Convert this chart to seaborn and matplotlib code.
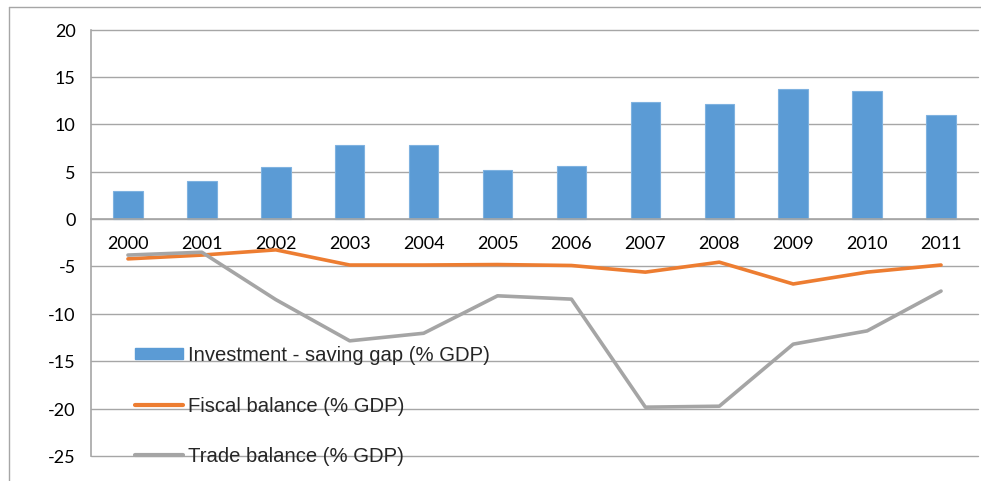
import numpy as np
import pandas as pd
import matplotlib
matplotlib.use("Agg")
import matplotlib.pyplot as plt
import seaborn as sns
from matplotlib.patches import Patch
from matplotlib.lines import Line2D

years = ["2000", "2001", "2002", "2003", "2004", "2005", "2006", "2007", "2008", "2009", "2010", "2011"]
gap = [3.0, 4.0, 5.45, 7.85, 7.85, 5.2, 5.6, 12.35, 12.15, 13.75, 13.5, 11.0]
fiscal = [-4.2, -3.8, -3.25, -4.85, -4.85, -4.8, -4.9, -5.6, -4.55, -6.85, -5.6, -4.85]
trade = [-3.8, -3.5, -8.5, -12.85, -12.05, -8.1, -8.45, -19.85, -19.75, -13.2, -11.8, -7.6]
labels = ["Investment - saving gap (% GDP)", "Fiscal balance (% GDP)", "Trade balance (% GDP)"]

BLUE = "#5B9BD5"
ORANGE = "#ED7D31"
GRAY = "#A5A5A5"
GRID = "#A6A6A6"

sns.set_style("white")
plt.rcParams["font.family"] = ["Lato", "DejaVu Sans"]

df = pd.DataFrame({"year": years, "gap": gap, "fiscal": fiscal, "trade": trade,
                   "pos": np.arange(len(years))})

fig = plt.figure(figsize=(9.81, 4.815), dpi=100)
W, H = 981, 481
ax = fig.add_axes([91 / W, 1 - 456 / H, (978 - 91) / W, (456 - 30) / H])

# outer chart frame (left and top edges visible)
fig.add_artist(Line2D([9 / W, 9 / W], [0, 1 - 7 / H], transform=fig.transFigure,
                      color="#A6A6A6", linewidth=1.0))
fig.add_artist(Line2D([9 / W, 1], [1 - 7 / H, 1 - 7 / H], transform=fig.transFigure,
                      color="#A6A6A6", linewidth=1.0))

ax.set_ylim(-25, 20)
ax.set_xlim(-0.5, len(years) - 0.5)
ax.set_yticks(np.arange(-25, 21, 5))
ax.yaxis.grid(True, color=GRID, linewidth=1.0)
ax.set_axisbelow(True)

sns.barplot(data=df, x="year", y="gap", color=BLUE, width=0.4, ax=ax,
            edgecolor="#7FB2E0", linewidth=0.8, saturation=1, zorder=2)
sns.lineplot(data=df, x="pos", y="fiscal", color=ORANGE, linewidth=2.6, ax=ax, zorder=3)
sns.lineplot(data=df, x="pos", y="trade", color=GRAY, linewidth=2.6, ax=ax, zorder=3)
ax.set_xlim(-0.5, len(years) - 0.5)
ax.set_ylim(-25, 20)
for gl in ax.get_ygridlines():
    gl.set_clip_on(False)

ax.set_xlabel("")
ax.set_ylabel("")
for s in ["top", "right"]:
    ax.spines[s].set_visible(False)
ax.spines["left"].set_color(GRID)
ax.spines["left"].set_linewidth(1.2)
ax.spines["bottom"].set_position(("data", 0))
ax.spines["bottom"].set_color(GRID)
ax.spines["bottom"].set_linewidth(1.2)

ax.set_xticks(np.arange(len(years)))
ax.set_xticklabels(years)
ax.set_xticks(np.arange(-0.5, len(years)), minor=True)
ax.tick_params(axis="x", which="major", length=0, pad=12, labelsize=13, labelcolor="black")
ax.tick_params(axis="x", which="minor", length=5, width=1.2, color=GRID, direction="out")
ax.tick_params(axis="y", which="major", length=5, width=1.2, color=GRID, direction="out",
               labelsize=13, labelcolor="black", pad=6)
ax.set_yticklabels([str(v) for v in np.arange(-25, 21, 5)])

handles = [Patch(facecolor=BLUE, edgecolor=BLUE),
           Line2D([0], [0], color=ORANGE, linewidth=3),
           Line2D([0], [0], color=GRAY, linewidth=3)]
leg = ax.legend(handles, labels, loc="upper left", bbox_to_anchor=(135 / W, 1 - 346 / H),
                bbox_transform=fig.transFigure, frameon=False,
                prop={"family": "Liberation Sans", "size": 14.6},
                handlelength=2.35, handleheight=0.5, handletextpad=0.25, labelspacing=1.55,
                borderpad=0, borderaxespad=0)

fig.savefig("out.png", dpi=100)
